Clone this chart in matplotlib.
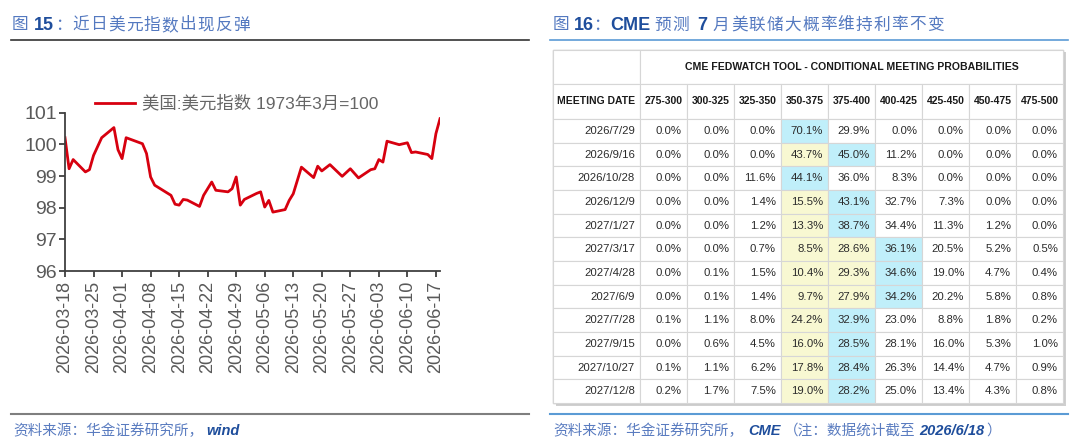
import matplotlib
matplotlib.use('Agg')
import matplotlib.pyplot as plt
import matplotlib.dates as mdates
from matplotlib.patches import Rectangle
from matplotlib.lines import Line2D
import pandas as pd

plt.rcParams['font.family'] = ['Liberation Sans', 'Noto Sans CJK SC']

# 美元指数
dxy_dates = [
    '2026-03-18', '2026-03-19', '2026-03-20', '2026-03-23', '2026-03-24', '2026-03-25',
    '2026-03-27', '2026-03-30', '2026-03-31', '2026-04-01', '2026-04-02', '2026-04-06',
    '2026-04-07', '2026-04-08', '2026-04-09', '2026-04-13', '2026-04-14', '2026-04-15',
    '2026-04-16', '2026-04-17', '2026-04-20', '2026-04-21', '2026-04-23', '2026-04-24',
    '2026-04-27', '2026-04-28', '2026-04-29', '2026-04-30', '2026-05-01', '2026-05-04',
    '2026-05-05', '2026-05-06', '2026-05-07', '2026-05-08', '2026-05-11', '2026-05-12',
    '2026-05-13', '2026-05-15', '2026-05-18', '2026-05-19', '2026-05-20', '2026-05-22',
    '2026-05-25', '2026-05-27', '2026-05-29', '2026-06-01', '2026-06-02', '2026-06-03',
    '2026-06-04', '2026-06-05', '2026-06-08', '2026-06-10', '2026-06-11', '2026-06-12',
    '2026-06-15', '2026-06-16', '2026-06-17', '2026-06-18',
]
dxy_values = [
    100.21, 99.23, 99.52, 99.13, 99.20, 99.65,
    100.21, 100.53, 99.83, 99.55, 100.21, 100.02,
    99.71, 98.97, 98.71, 98.39, 98.11, 98.08,
    98.26, 98.24, 98.04, 98.39, 98.81, 98.55,
    98.50, 98.60, 98.97, 98.08, 98.26, 98.45,
    98.50, 98.02, 98.23, 97.86, 97.94, 98.23,
    98.44, 99.28, 98.95, 99.31, 99.16, 99.36,
    98.99, 99.23, 98.94, 99.20, 99.23, 99.52,
    99.44, 100.10, 99.99, 100.05, 99.74, 99.76,
    99.68, 99.55, 100.34, 100.81,
]
legend_label = '美国:美元指数 1973年3月=100'

# CME FedWatch table
rate_ranges = ['275-300', '300-325', '325-350', '350-375', '375-400',
               '400-425', '425-450', '450-475', '475-500']
current_range = '350-375'
meeting_dates = ['2026/7/29', '2026/9/16', '2026/10/28', '2026/12/9', '2027/1/27',
                 '2027/3/17', '2027/4/28', '2027/6/9', '2027/7/28', '2027/9/15',
                 '2027/10/27', '2027/12/8']
probs = [
    [0.0, 0.0, 0.0, 70.1, 29.9, 0.0, 0.0, 0.0, 0.0],
    [0.0, 0.0, 0.0, 43.7, 45.0, 11.2, 0.0, 0.0, 0.0],
    [0.0, 0.0, 11.6, 44.1, 36.0, 8.3, 0.0, 0.0, 0.0],
    [0.0, 0.0, 1.4, 15.5, 43.1, 32.7, 7.3, 0.0, 0.0],
    [0.0, 0.0, 1.2, 13.3, 38.7, 34.4, 11.3, 1.2, 0.0],
    [0.0, 0.0, 0.7, 8.5, 28.6, 36.1, 20.5, 5.2, 0.5],
    [0.0, 0.1, 1.5, 10.4, 29.3, 34.6, 19.0, 4.7, 0.4],
    [0.0, 0.1, 1.4, 9.7, 27.9, 34.2, 20.2, 5.8, 0.8],
    [0.1, 1.1, 8.0, 24.2, 32.9, 23.0, 8.8, 1.8, 0.2],
    [0.0, 0.6, 4.5, 16.0, 28.5, 28.1, 16.0, 5.3, 1.0],
    [0.1, 1.1, 6.2, 17.8, 28.4, 26.3, 14.4, 4.7, 0.9],
    [0.2, 1.7, 7.5, 19.0, 28.2, 25.0, 13.4, 4.3, 0.8],
]

W, H = 1080, 448
fig = plt.figure(figsize=(W / 100, H / 100), dpi=100)
renderer = fig.canvas.get_renderer()


def fx(px):
    return px / W


def fy(py):
    return 1 - py / H


def put_pieces(x_px, y_px, pieces, spacing=0.0):
    # draw text pieces one after another; gap in pixels after each piece,
    # CJK pieces get a little letter spacing like the original
    x = x_px
    for s, gap, kw in pieces:
        chars = list(s) if (spacing and not s.isascii()) else [s]
        for k, c in enumerate(chars):
            t = fig.text(fx(x), fy(y_px), c, ha='left', va='center', **kw)
            x += t.get_window_extent(renderer=renderer).width
            if k < len(chars) - 1:
                x += spacing
        x += gap


cjk_title = dict(fontsize=12, color='#5479c0')
bold_title = dict(fontsize=13, color='#1f4e9c', fontweight='bold')
cjk_src = dict(fontsize=10.5, color='#5a7cc0')
lat_src = dict(fontsize=10.5, color='#1f4e9c', fontweight='bold', style='italic')

# ---------------- left: line chart ----------------
put_pieces(12, 25, [('图', 5, cjk_title), ('15', 1, bold_title), ('：', 1, cjk_title),
                    ('近日美元指数出现反弹', 0, cjk_title)], spacing=1.2)
fig.add_artist(Line2D([fx(11), fx(529)], [fy(40)] * 2, color='#333333', lw=1.2))
fig.add_artist(Line2D([fx(11), fx(529)], [fy(414)] * 2, color='#7f7f7f', lw=1.5))
put_pieces(13, 431, [('资料来源：华金证券研究所，', 3, cjk_src), ('wind', 0, lat_src)])

ax = fig.add_axes([fx(65), fy(271), fx(440) - fx(65), fy(112.7) - fy(271)])
ax.plot(pd.to_datetime(dxy_dates), dxy_values, color='#d7000f', lw=2.0, label=legend_label)
ax.set_ylim(96, 101)
ax.set_yticks([96, 97, 98, 99, 100, 101])
ax.set_xlim(pd.Timestamp('2026-03-18'), pd.Timestamp('2026-06-18'))
ax.xaxis.set_major_locator(mdates.WeekdayLocator(byweekday=mdates.WE))
ax.xaxis.set_major_formatter(mdates.DateFormatter('%Y-%m-%d'))
for s in ['top', 'right']:
    ax.spines[s].set_visible(False)
for s in ['left', 'bottom']:
    ax.spines[s].set_color('#404040')
    ax.spines[s].set_linewidth(1.3)
ax.tick_params(axis='both', direction='out', length=4, width=1.3, color='#404040',
               labelsize=13, labelcolor='#595959')
ax.tick_params(axis='x', labelrotation=90, pad=3)
ax.tick_params(axis='y', pad=2, labelsize=14)
ax.patch.set_alpha(0)
ax.legend(loc='center left', bbox_to_anchor=(fx(95), fy(103.5)), bbox_transform=fig.transFigure,
          frameon=False, fontsize=12.5, labelcolor='#666666', handlelength=2.3,
          handletextpad=0.4, borderpad=0, borderaxespad=0)

# ---------------- right: table ----------------
put_pieces(553, 25, [('图', 4, cjk_title), ('16', 0, bold_title), ('：', 0, cjk_title),
                     ('CME', 4, bold_title), ('预测', 8, cjk_title), ('7', 6, bold_title),
                     ('月美联储大概率维持利率不变', 0, cjk_title)], spacing=1.2)
fig.add_artist(Line2D([fx(550), fx(1068)], [fy(40)] * 2, color='#5b9bd5', lw=1.2))
fig.add_artist(Line2D([fx(550), fx(1068)], [fy(414)] * 2, color='#5b9bd5', lw=1.5))
put_pieces(553, 431, [('资料来源：华金证券研究所，', 5, cjk_src), ('CME', 3, lat_src),
                      ('（注：数据统计截至', 4, cjk_src), ('2026/6/18', 2, lat_src),
                      ('）', 0, cjk_src)])

tx0, ty0, tw, th = 553, 50, 510, 353
axt = fig.add_axes([fx(tx0), fy(ty0 + th), tw / W, th / H])
axt.set_xlim(0, tw)
axt.set_ylim(th, 0)
axt.axis('off')

col_w = [87] + [47] * len(rate_ranges)
row_h = [34, 35] + [(th - 69) / len(meeting_dates)] * len(meeting_dates)
col_x = [sum(col_w[:i]) for i in range(len(col_w) + 1)]
row_y = [sum(row_h[:i]) for i in range(len(row_h) + 1)]

grid = '#d6d6d6'
txt = '#2b2b2b'
yellow = '#f8f8d2'
cyan = '#c0effa'

# drop shadow and outer frame
axt.add_patch(Rectangle((2.5, 2.5), tw, th, fc='#d0d0d0', ec='none', zorder=0, clip_on=False))
axt.add_patch(Rectangle((0, 0), tw, th, fc='white', ec='#b8b8b8', lw=1.0, zorder=1, clip_on=False))


def cell(c0, c1, r, fc='white'):
    axt.add_patch(Rectangle((col_x[c0], row_y[r]), col_x[c1] - col_x[c0], row_h[r],
                            fc=fc, ec=grid, lw=0.8, zorder=2, clip_on=False))


# header rows
cell(0, 1, 0)
cell(1, len(col_w), 0)
axt.text((col_x[1] + col_x[-1]) / 2, row_y[0] + row_h[0] / 2,
         'CME FEDWATCH TOOL - CONDITIONAL MEETING PROBABILITIES',
         ha='center', va='center', fontsize=7.6, fontweight='bold', color='#1a1a1a', zorder=3)
cell(0, 1, 1)
axt.text(col_w[0] / 2, row_y[1] + row_h[1] / 2, 'MEETING DATE', ha='center', va='center',
         fontsize=7.5, fontweight='bold', color='#1a1a1a', zorder=3)
for j, rr in enumerate(rate_ranges):
    cell(j + 1, j + 2, 1)
    axt.text((col_x[j + 1] + col_x[j + 2]) / 2, row_y[1] + row_h[1] / 2, rr, ha='center',
             va='center', fontsize=7.5, fontweight='bold', color='#1a1a1a', zorder=3)

# data rows: cyan = most likely range, yellow = current range up to the most likely one
cur = rate_ranges.index(current_range)
for i, (d, row) in enumerate(zip(meeting_dates, probs)):
    r = i + 2
    cy = row_y[r] + row_h[r] / 2
    cell(0, 1, r)
    axt.text(col_x[1] - 5, cy, d, ha='right', va='center', fontsize=8.2, color=txt, zorder=3)
    best = row.index(max(row))
    for j, v in enumerate(row):
        fc = 'white'
        if j == best:
            fc = cyan
        elif cur <= j < best:
            fc = yellow
        cell(j + 1, j + 2, r, fc)
        axt.text(col_x[j + 2] - 5, cy, f'{v:.1f}%', ha='right', va='center',
                 fontsize=8.2, color=txt, zorder=3)

fig.savefig('out.png', dpi=100)
